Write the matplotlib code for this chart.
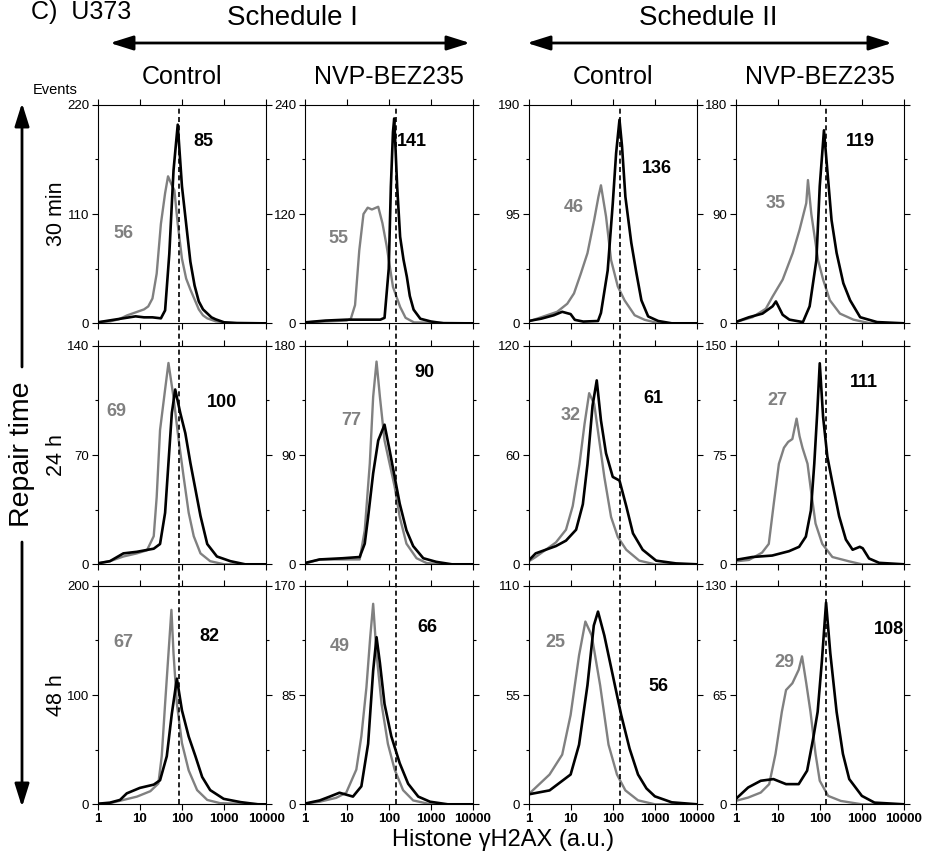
import matplotlib.pyplot as plt
import numpy as np
from matplotlib.patches import FancyArrowPatch
from matplotlib.ticker import NullFormatter

plt.rcParams['font.family'] = ['Liberation Sans', 'DejaVu Sans']

# panel grid: rows = repair time, columns = schedule / treatment
schedules = ['Schedule I', 'Schedule II']
treatments = ['Control', 'NVP-BEZ235', 'Control', 'NVP-BEZ235']
repair_times = ['30 min', '24 h', '48 h']

ymax = [[220, 240, 190, 180],
        [140, 180, 120, 150],
        [200, 170, 110, 130]]

grey_values = [[56, 55, 46, 35], [69, 77, 32, 27], [67, 49, 25, 29]]
black_values = [[85, 141, 136, 119], [100, 90, 61, 111], [82, 66, 56, 108]]

# reference median per column (dashed line)
ref_line = [87, 147, 152, 138]

# histograms: (log10 intensity, events)
grey_r1c1 = [(0, 1), (0.3, 2), (0.5, 4), (0.7, 8), (0.9, 11), (1.1, 14), (1.2, 17), (1.3, 25),
             (1.4, 50), (1.5, 100), (1.6, 131), (1.67, 148), (1.75, 140), (1.82, 134), (1.9, 100),
             (2.0, 65), (2.1, 45), (2.2, 34), (2.3, 24), (2.4, 14), (2.5, 8), (2.6, 5), (2.8, 2),
             (3.0, 1), (4, 0)]
black_r1c1 = [(0, 1), (0.3, 3), (0.6, 5), (0.9, 7), (1.1, 6), (1.3, 6), (1.5, 5), (1.6, 13),
              (1.7, 70), (1.8, 154), (1.9, 200), (2.0, 138), (2.1, 100), (2.2, 62), (2.3, 38),
              (2.4, 22), (2.5, 14), (2.6, 10), (2.7, 6), (2.8, 4), (3.0, 1), (3.3, 0), (4, 0)]
grey_r1c2 = [(0, 1), (0.5, 2), (1.0, 3), (1.1, 5), (1.2, 20), (1.3, 80), (1.4, 120), (1.5, 127),
             (1.6, 125), (1.75, 128), (1.85, 110), (1.95, 85), (2.1, 40), (2.27, 18), (2.4, 6),
             (2.6, 1), (4, 0)]
black_r1c2 = [(0, 1), (0.5, 3), (1.0, 4), (1.5, 4), (1.8, 4), (1.9, 6), (2.0, 60), (2.05, 150),
              (2.1, 210), (2.13, 225), (2.2, 150), (2.27, 95), (2.35, 70), (2.43, 51), (2.5, 30),
              (2.59, 15), (2.75, 5), (3.0, 2), (3.3, 0), (4, 0)]
grey_r1c3 = [(0, 1.5), (0.36, 6), (0.68, 10), (0.92, 17), (1.08, 26), (1.24, 43), (1.4, 61),
             (1.56, 90), (1.66, 110), (1.72, 120), (1.84, 93), (1.96, 55), (2.12, 32), (2.28, 20),
             (2.52, 7), (2.76, 3), (3.1, 0), (4, 0)]
black_r1c3 = [(0, 2), (0.3, 4), (0.6, 7), (0.8, 10), (1.0, 8), (1.1, 3), (1.3, 1.5), (1.65, 2),
              (1.72, 9), (1.88, 46), (2.0, 104), (2.08, 148), (2.16, 177), (2.22, 154), (2.3, 110),
              (2.44, 70), (2.56, 44), (2.68, 20), (2.84, 6), (3.08, 2), (3.4, 0), (4, 0)]
grey_r1c4 = [(0, 1), (0.4, 5), (0.72, 12), (0.88, 22), (1.12, 36), (1.36, 58), (1.52, 77),
             (1.68, 99), (1.72, 118), (1.8, 90), (1.96, 52), (2.08, 36), (2.24, 19), (2.48, 8),
             (2.8, 3), (3.2, 0), (4, 0)]
black_r1c4 = [(0, 1), (0.32, 5), (0.64, 8), (0.88, 14), (0.96, 18), (1.12, 7), (1.28, 3), (1.6, 1),
              (1.76, 14), (1.92, 52), (2.0, 113), (2.1, 159), (2.18, 126), (2.28, 85), (2.4, 58),
              (2.56, 33), (2.72, 19), (2.96, 5), (3.36, 1), (4, 0)]

grey_r2c1 = [(0, 0.6), (0.29, 2), (0.61, 5), (0.93, 7), (1.17, 9), (1.33, 18), (1.4, 43), (1.48, 86),
             (1.6, 112), (1.68, 129), (1.8, 107), (1.92, 80), (2.04, 56), (2.16, 33), (2.28, 18),
             (2.44, 7), (2.67, 2), (3.0, 0), (4, 0)]
black_r2c1 = [(0, 0.6), (0.29, 2), (0.61, 7), (0.93, 8), (1.33, 10), (1.48, 13), (1.6, 33),
              (1.68, 65), (1.76, 97), (1.84, 112), (1.96, 97), (2.08, 84), (2.2, 65), (2.32, 48),
              (2.44, 31), (2.6, 13), (2.83, 5), (3.15, 2), (3.5, 0), (4, 0)]
grey_r2c2 = [(0, 0.5), (0.36, 4), (0.91, 4), (1.31, 4), (1.43, 28), (1.55, 83), (1.63, 138),
             (1.71, 167), (1.79, 138), (1.9, 102), (2.02, 83), (2.14, 64), (2.26, 39), (2.42, 17),
             (2.66, 5), (2.9, 1), (3.3, 0), (4, 0)]
black_r2c2 = [(0, 1), (0.36, 4), (0.91, 5), (1.31, 6), (1.43, 17), (1.51, 39), (1.63, 75),
              (1.75, 102), (1.9, 115), (2.02, 94), (2.14, 72), (2.26, 50), (2.42, 28), (2.58, 15),
              (2.82, 5), (3.13, 2), (3.5, 0), (4, 0)]
grey_r2c3 = [(0, 1.5), (0.17, 4), (0.41, 8), (0.65, 12), (0.89, 19), (1.05, 32), (1.21, 55),
             (1.33, 77), (1.44, 94), (1.56, 88), (1.68, 68), (1.8, 48), (1.96, 26), (2.12, 15),
             (2.32, 8), (2.63, 2), (3.0, 0), (4, 0)]
black_r2c3 = [(0, 2), (0.17, 6), (0.41, 8), (0.65, 10), (0.89, 13), (1.13, 19), (1.29, 33),
              (1.4, 55), (1.52, 87), (1.62, 101), (1.72, 79), (1.84, 61), (2.0, 48), (2.16, 46),
              (2.32, 32), (2.48, 17), (2.71, 8), (3.03, 2), (3.5, 0.5), (4, 0)]
grey_r2c4 = [(0, 2), (0.32, 3), (0.63, 8), (0.79, 14), (0.91, 42), (1.03, 69), (1.15, 80),
             (1.25, 84), (1.35, 86), (1.45, 100), (1.52, 88), (1.59, 80), (1.71, 69), (1.79, 51),
             (1.9, 28), (2.06, 14), (2.3, 5), (2.7, 2), (3.0, 0), (4, 0)]
black_r2c4 = [(0, 3), (0.4, 5), (0.87, 6), (1.27, 9), (1.51, 12), (1.67, 19), (1.79, 37),
              (1.87, 69), (1.94, 104), (2.0, 138), (2.08, 101), (2.18, 74), (2.3, 56), (2.46, 33),
              (2.62, 17), (2.78, 10), (2.95, 12), (3.02, 11), (3.17, 4), (3.41, 1), (4, 0)]

grey_r3c1 = [(0, 0.5), (0.29, 1), (0.61, 4), (0.93, 7), (1.25, 12), (1.44, 19), (1.52, 44),
             (1.6, 92), (1.68, 138), (1.75, 178), (1.8, 138), (1.88, 92), (2.0, 56), (2.16, 31),
             (2.36, 13), (2.6, 4), (2.91, 1), (4, 0)]
black_r3c1 = [(0, 0.5), (0.29, 1.5), (0.53, 4), (0.69, 10), (1.0, 15), (1.33, 18), (1.48, 22),
              (1.64, 44), (1.76, 83), (1.88, 115), (2.0, 86), (2.16, 62), (2.32, 44), (2.48, 25),
              (2.67, 13), (2.99, 5), (3.39, 2), (3.8, 0), (4, 0)]
grey_r3c2 = [(0, 0.5), (0.36, 2), (0.75, 5), (0.99, 9), (1.23, 27), (1.35, 53), (1.47, 91),
             (1.56, 130), (1.63, 156), (1.71, 117), (1.83, 78), (1.98, 47), (2.14, 27), (2.34, 11),
             (2.58, 3), (3.0, 0), (4, 0)]
black_r3c2 = [(0, 0.5), (0.36, 3), (0.6, 6), (0.83, 9), (1.15, 6), (1.35, 14), (1.51, 47),
              (1.63, 104), (1.71, 130), (1.79, 110), (1.9, 78), (2.06, 53), (2.26, 32), (2.46, 16),
              (2.7, 6), (2.98, 2), (3.4, 0), (4, 0)]
grey_r3c3 = [(0, 5), (0.5, 15), (0.8, 25), (1.0, 45), (1.2, 75), (1.35, 92), (1.5, 85), (1.7, 60),
             (1.9, 30), (2.1, 15), (2.3, 7), (2.6, 2), (3.0, 0), (4, 0)]
black_r3c3 = [(0, 5), (0.5, 7), (1.0, 15), (1.2, 30), (1.4, 60), (1.55, 90), (1.65, 97), (1.8, 85),
              (2.0, 65), (2.2, 45), (2.4, 28), (2.6, 15), (2.8, 8), (3.0, 4), (3.4, 1), (4, 0)]
grey_r3c4 = [(0, 2), (0.3, 4), (0.6, 7), (0.8, 12), (0.95, 30), (1.1, 55), (1.2, 68), (1.35, 72),
             (1.5, 80), (1.58, 88), (1.68, 72), (1.78, 55), (1.9, 30), (2.0, 14), (2.2, 5),
             (2.5, 2), (3.0, 0), (4, 0)]
black_r3c4 = [(0, 3), (0.3, 10), (0.6, 14), (0.9, 15), (1.2, 12), (1.5, 12), (1.7, 20), (1.85, 40),
              (1.95, 55), (2.05, 85), (2.15, 120), (2.25, 90), (2.4, 55), (2.55, 30), (2.7, 15),
              (3.0, 5), (3.3, 1), (4, 0)]

grey = [[grey_r1c1, grey_r1c2, grey_r1c3, grey_r1c4],
        [grey_r2c1, grey_r2c2, grey_r2c3, grey_r2c4],
        [grey_r3c1, grey_r3c2, grey_r3c3, grey_r3c4]]
black = [[black_r1c1, black_r1c2, black_r1c3, black_r1c4],
         [black_r2c1, black_r2c2, black_r2c3, black_r2c4],
         [black_r3c1, black_r3c2, black_r3c3, black_r3c4]]

# where the numbers sit inside each panel (axes fraction)
grey_pos = [[(0.15, 0.41), (0.20, 0.39), (0.27, 0.53), (0.24, 0.55)],
            [(0.11, 0.70), (0.28, 0.66), (0.25, 0.68), (0.25, 0.75)],
            [(0.15, 0.74), (0.21, 0.72), (0.16, 0.74), (0.29, 0.65)]]
black_pos = [[(0.63, 0.83), (0.64, 0.83), (0.76, 0.71), (0.74, 0.83)],
             [(0.74, 0.74), (0.71, 0.88), (0.74, 0.76), (0.76, 0.83)],
             [(0.66, 0.77), (0.73, 0.81), (0.77, 0.54), (0.91, 0.80)]]

W, H = 927, 860
GREY = '#808080'
fig = plt.figure(figsize=(W / 100, H / 100), dpi=100)

col_left = [97.7, 304.5, 528.5, 735.5]
row_top = [104.8, 345.8, 585.8]
aw, ah = 168.5, 218.5
gap = (row_top[1] - row_top[0] - ah) / ah


def fx(x):
    return x / W


def fy(y):
    return 1 - y / H


for r in range(3):
    for c in range(4):
        ax = fig.add_axes([fx(col_left[c]), fy(row_top[r] + ah), aw / W, ah / H])
        g = np.array(grey[r][c])
        b = np.array(black[r][c])
        ax.plot(10 ** g[:, 0], g[:, 1], color=GREY, lw=1.7)
        ax.plot(10 ** b[:, 0], b[:, 1], color='black', lw=1.9)
        ax.axvline(ref_line[c], ymin=0 if r == 2 else -gap - 0.005, ymax=1, clip_on=False,
                   color='black', lw=1.2, ls=(0, (3, 2)), zorder=3)
        ax.set_xscale('log')
        ax.set_xlim(1, 10000)
        top = ymax[r][c]
        ax.set_ylim(0, top)
        ax.set_yticks([0, top / 2, top])
        ax.set_yticklabels([str(int(v)) for v in (0, top / 2, top)])
        ax.set_yticks([top / 4, 3 * top / 4], minor=True)
        ax.set_xticks([1, 10, 100, 1000, 10000])
        ax.xaxis.set_minor_formatter(NullFormatter())
        if r == 2:
            ax.set_xticklabels(['1', '10', '100', '1000', '10000'], fontweight='bold')
        else:
            ax.tick_params(axis='x', labelbottom=False)
        ax.tick_params(which='both', top=True, right=True, direction='out', width=0.8,
                       labelsize=9.5, pad=2)
        ax.tick_params(which='major', length=4)
        ax.tick_params(which='minor', length=2.5)
        for s in ax.spines.values():
            s.set_linewidth(0.8)
        gx, gy = grey_pos[r][c]
        ax.text(gx, gy, str(grey_values[r][c]), transform=ax.transAxes, color=GREY,
                fontsize=13, fontweight='bold', ha='center', va='center')
        bx, by = black_pos[r][c]
        ax.text(bx, by, str(black_values[r][c]), transform=ax.transAxes, color='black',
                fontsize=13, fontweight='bold', ha='center', va='center')

# headers
fig.text(fx(31), fy(19), 'C)  U373', fontsize=18, ha='left', va='baseline')
fig.text(fx(292), fy(18), schedules[0], fontsize=20, ha='center', va='center')
fig.text(fx(708), fy(18), schedules[1], fontsize=20, ha='center', va='center')
for x0, x1 in [(110, 470), (527, 892)]:
    fig.add_artist(FancyArrowPatch((fx(x0), fy(43)), (fx(x1), fy(43)), transform=fig.transFigure,
                                   arrowstyle='<|-|>,head_length=0.7,head_width=0.22',
                                   mutation_scale=20, lw=2, color='black',
                                   shrinkA=0, shrinkB=0))
for c, name in enumerate(treatments):
    fig.text(fx(col_left[c] + aw / 2), fy(77), name, fontsize=18, ha='center', va='center')
fig.text(fx(55.5), fy(90), 'Events', fontsize=10.5, ha='center', va='center')

# row labels and vertical arrow
for r, name in enumerate(repair_times):
    fig.text(fx(57), fy(row_top[r] + ah / 2), name, fontsize=15.5, rotation=90,
             ha='center', va='center')
fig.text(fx(22), fy(454), 'Repair time', fontsize=20.5, rotation=90, ha='center', va='center')
for y0, y1 in [(367, 103), (542, 807)]:
    fig.add_artist(FancyArrowPatch((fx(22), fy(y0)), (fx(22), fy(y1)), transform=fig.transFigure,
                                   arrowstyle='-|>,head_length=0.7,head_width=0.22',
                                   mutation_scale=20, lw=2, color='black',
                                   shrinkA=0, shrinkB=0))

fig.text(fx(503), fy(840), 'Histone \u03b3H2AX (a.u.)', fontsize=17, ha='center', va='center')

fig.savefig('out.png', dpi=100)
